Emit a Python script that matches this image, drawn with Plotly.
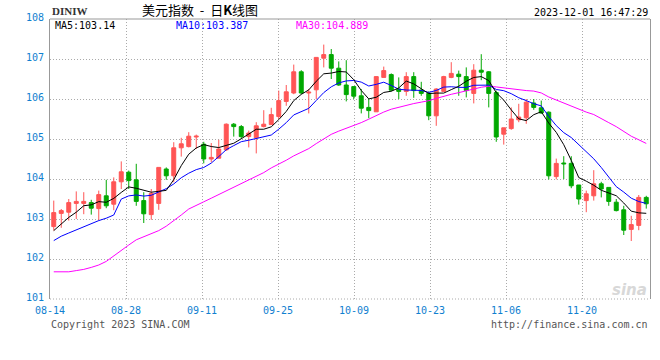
import plotly.graph_objects as go
import pandas as pd

# ---------------- data ----------------
dates = pd.bdate_range("2023-08-14", "2023-12-01").strftime("%m-%d").tolist()  # 80 trading days

opens = [102.81, 103.14, 103.17, 103.39, 103.39, 103.41, 103.26, 103.58, 103.37, 103.93,
         104.17, 103.98, 103.46, 103.11, 103.39, 104.25, 104.08, 104.78, 104.81, 105.05,
         104.87, 104.50, 104.52, 104.73, 105.37, 105.31, 105.06, 105.03, 105.31, 105.36,
         105.56, 105.94, 106.15, 106.68, 106.15, 106.23, 107.02, 107.11, 106.77, 106.35,
         106.31, 106.08, 105.79, 105.68, 106.54, 106.61, 106.25, 106.19, 106.56, 106.22,
         106.14, 105.58, 106.19, 106.54, 106.62, 106.56, 106.14, 106.72, 106.68, 106.16,
         105.12, 105.26, 105.48, 105.53, 105.90, 105.78, 105.67, 104.06, 104.40, 104.39,
         103.85, 103.46, 103.58, 103.88, 103.79, 103.42, 103.23, 102.74, 102.84, 103.54]
highs = [103.46, 103.25, 103.50, 103.69, 103.67, 103.48, 103.71, 103.98, 104.04, 104.44,
         104.21, 104.38, 103.67, 103.75, 104.29, 104.29, 104.92, 105.03, 105.17, 105.11,
         104.93, 104.90, 104.98, 105.39, 105.40, 105.35, 105.21, 105.42, 105.72, 105.78,
         106.21, 106.35, 106.86, 106.72, 106.25, 107.04, 107.36, 107.25, 106.94, 106.97,
         106.31, 106.25, 106.00, 106.56, 106.81, 106.64, 106.54, 106.67, 106.67, 106.43,
         106.19, 106.27, 106.58, 106.92, 106.71, 106.79, 106.87, 107.12, 106.70, 106.21,
         105.28, 105.79, 105.88, 106.00, 106.00, 105.96, 105.69, 104.51, 104.57, 104.57,
         103.85, 103.71, 104.22, 103.93, 103.79, 103.50, 103.33, 103.08, 103.60, 103.58]
lows = [102.71, 102.78, 102.96, 103.00, 103.12, 103.11, 102.96, 103.27, 103.22, 103.75,
        103.75, 103.33, 102.90, 102.98, 103.23, 103.98, 103.92, 104.56, 104.79, 104.75,
        104.39, 104.42, 104.52, 104.70, 105.06, 105.00, 104.79, 104.64, 105.29, 105.36,
        105.50, 105.83, 106.12, 106.12, 105.64, 106.00, 106.79, 106.50, 106.33, 105.94,
        106.00, 105.64, 105.52, 105.68, 106.54, 106.19, 106.00, 106.08, 106.03, 106.08,
        105.47, 105.33, 106.19, 106.52, 106.08, 106.04, 105.89, 106.47, 105.79, 104.93,
        104.86, 105.23, 105.42, 105.38, 105.73, 105.63, 103.99, 103.99, 104.00, 103.77,
        103.36, 103.17, 103.46, 103.54, 103.33, 103.19, 102.60, 102.45, 102.72, 103.26]
closes = [103.16, 103.21, 103.41, 103.44, 103.44, 103.27, 103.61, 103.33, 103.93, 104.18,
          103.96, 103.44, 103.13, 103.64, 104.29, 104.08, 104.78, 104.88, 105.07, 105.07,
          104.50, 104.54, 104.75, 105.37, 105.31, 105.06, 105.15, 105.33, 105.37, 105.61,
          105.96, 106.18, 106.68, 106.15, 106.17, 107.04, 107.11, 106.77, 106.35, 106.11,
          106.07, 105.77, 105.71, 106.56, 106.71, 106.22, 106.19, 106.56, 106.21, 106.14,
          105.58, 106.25, 106.56, 106.64, 106.56, 106.21, 106.72, 106.67, 106.14, 105.05,
          105.28, 105.50, 105.55, 105.92, 105.79, 105.65, 104.08, 104.39, 104.38, 103.83,
          103.50, 103.63, 103.88, 103.75, 103.44, 103.21, 102.72, 102.86, 103.54, 103.38]

# moving-average values on the first days (their windows start before the visible range)
ma5_head = [102.71, 102.88, 103.04, 103.17]
ma10_head = [102.46, 102.57, 102.65, 102.73, 102.81, 102.90, 102.96, 103.02, 103.10]
ma30_head = [101.68, 101.68, 101.68, 101.71, 101.74, 101.79, 101.85, 101.94, 102.08, 102.23,
             102.35, 102.48, 102.56, 102.63, 102.71, 102.82, 102.95, 103.10, 103.25, 103.35,
             103.43, 103.52, 103.61, 103.70, 103.79, 103.88, 103.97, 104.07, 104.16]

tick_labels = ["08-14", "08-28", "09-11", "09-25", "10-09", "10-23", "11-06", "11-20"]
ma_texts = ["MA5:103.14", "MA10:103.387", "MA30:104.889"]

# ---------------- derived ----------------
s = pd.Series(closes)
def ma(n, head):
    vals = s.rolling(n).mean().tolist()
    return head + vals[len(head):]

ma5 = ma(5, ma5_head)
ma10 = ma(10, ma10_head)
ma30 = ma(30, ma30_head)
xs = list(range(len(closes)))

RED = "#FF5555"
GREEN = "#00A800"
MONO = "DejaVu Sans Mono"
GRID = "#AAAAAA"
LABEL = "#1080D0"

fig = go.Figure()
fig.add_trace(go.Candlestick(
    x=xs, open=opens, high=highs, low=lows, close=closes,
    increasing=dict(line=dict(color=RED, width=1), fillcolor=RED),
    decreasing=dict(line=dict(color=GREEN, width=1), fillcolor=GREEN),
    whiskerwidth=0, showlegend=False, hoverinfo="skip"))
for vals, col in [(ma30, "#FF00FF"), (ma10, "#0000FF"), (ma5, "#000000")]:
    fig.add_trace(go.Scatter(x=xs, y=vals, mode="lines",
                             line=dict(color=col, width=1), showlegend=False, hoverinfo="skip"))

step = len(closes) * 76 / 600  # label spacing in candles
tickvals = [-0.5 + k * step for k in range(len(tick_labels))]

fig.update_layout(
    width=660, height=360,
    margin=dict(l=50, r=10, t=19, b=61),
    paper_bgcolor="white", plot_bgcolor="white",
    boxgap=0.25,
    xaxis=dict(range=[-0.5, len(closes) - 0.5], tickvals=tickvals, ticktext=tick_labels,
               showgrid=True, gridcolor=GRID, griddash="1px,2px", gridwidth=1,
               zeroline=False, showline=False, rangeslider=dict(visible=False),
               tickfont=dict(family=MONO, size=10, color=LABEL), ticks="",
               ticklabelstandoff=4),
    yaxis=dict(range=[101, 108], dtick=1, tick0=101,
               showgrid=True, gridcolor=GRID, griddash="1px,2px", gridwidth=1,
               zeroline=False, showline=True, mirror=True, linecolor="#999999", linewidth=1,
               tickfont=dict(family=MONO, size=10, color=LABEL), ticks="",
               ticklabelstandoff=3, ticklabelshift=-2),
)

def px_to_paper(xp, yp):
    return (xp - 50) / 600, (299 - yp) / 280

anns = []
def add_text(text, xp, yp, size, color, anchor="left", family=MONO, bold=False):
    x, y = px_to_paper(xp, yp)
    anns.append(dict(text=("<b>%s</b>" % text) if bold else text, x=x, y=y, xref="paper", yref="paper",
                     xanchor=anchor, yanchor="middle", showarrow=False,
                     font=dict(family=family, size=size, color=color)))

add_text("DINIW", 50, 11, 11, "#333333", bold=True, family="Liberation Serif")
add_text("美元指数 &nbsp;- &nbsp;日<b>K</b>线图", 140, 10, 13, "#000000", family="Noto Sans CJK SC")
add_text("2023-12-01 16:47:29", 650, 12, 10, "#000000", anchor="right")
add_text(ma_texts[0], 53, 25, 10, "#000000")
add_text(ma_texts[1], 174, 25, 10, "#0000FF")
add_text(ma_texts[2], 294, 25, 10, "#FF00FF")
add_text("Copyright 2023 SINA.COM", 49, 324, 10, "#555555")
add_text("http://finance.sina.com.cn", 650, 324, 10, "#555555", anchor="right")
add_text("<i>sina</i>", 610, 290, 15, "#D8D8D8", family="DejaVu Sans", bold=True)
fig.update_layout(annotations=anns)

fig.update_layout(shapes=[
    dict(type="line", xref="paper", yref="paper", x0=0, x1=1, y0=1, y1=1,
         line=dict(color="#999999", width=1)),
    dict(type="line", xref="paper", yref="paper", x0=0, x1=1, y0=0, y1=0,
         line=dict(color=GRID, width=1, dash="1px,2px")),
])

fig.write_html("out.html")
